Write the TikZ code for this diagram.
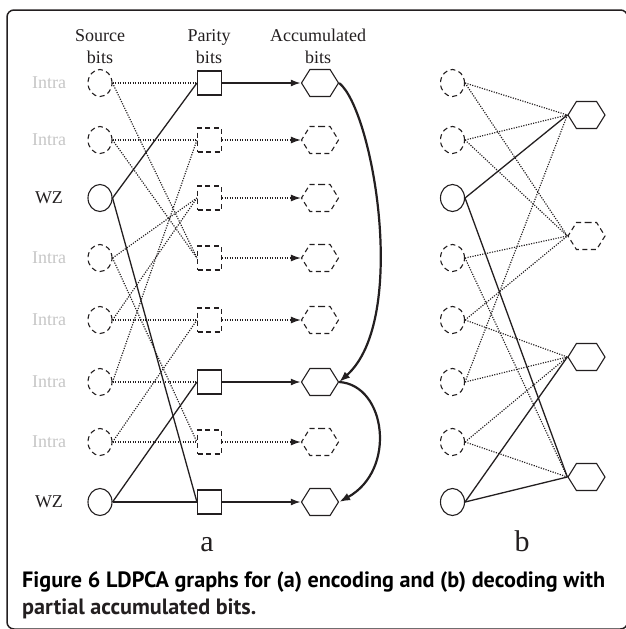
\documentclass[tikz,border=0pt]{standalone}
\usepackage{fontspec}
\setmainfont{Liberation Serif}
\newfontfamily\capfont{PT Sans}
\usetikzlibrary{shapes.geometric,shapes.symbols,arrows.meta}
\definecolor{ink}{RGB}{35,31,32}
\definecolor{intra}{RGB}{198,198,198}
\newsavebox\capbox
\newcommand\capline{\capfont\bfseries\fontsize{17}{20}\selectfont}
\begin{document}
\sbox\capbox{\capline Figure 6 LDPCA graphs for (a) encoding and (b) decoding with}%
\pgfmathsetmacro\capscale{583/\the\wd\capbox}%
\begin{tikzpicture}[x=1pt,y=-1pt,
  every node/.style={text=ink},
  src/.style={ellipse, draw=ink, minimum width=24pt, minimum height=27pt, inner sep=0pt, line width=1.1pt},
  srcd/.style={src, dash pattern=on 5pt off 3.5pt},
  par/.style={rectangle, draw=ink, minimum size=24pt, inner sep=0pt, line width=1.1pt},
  pard/.style={par, dash pattern=on 5pt off 3.5pt},
  acc/.style={signal, signal to=west and east, signal pointer angle=116, draw=ink, minimum width=37pt, minimum height=27pt, inner sep=0pt, line width=1.1pt},
  accd/.style={acc, dash pattern=on 5pt off 3.5pt},
  sedge/.style={draw=ink, line width=1.3pt},
  dedge/.style={draw=ink, line width=1.15pt, dash pattern=on 1.15pt off 1.35pt},
  sarrow/.style={draw=ink, line width=1.8pt, -{Latex[length=10pt,width=7pt]}},
  darrow/.style={draw=ink, line width=1.2pt, dash pattern=on 1.2pt off 1.3pt, -{Latex[length=10pt,width=7pt]}},
  carrow/.style={draw=ink, line width=2.2pt, -{Latex[length=11pt,width=8pt]}},
  lab/.style={font=\fontsize{18}{21}\selectfont},
  rowlab/.style={font=\fontsize{18}{21}\selectfont},
  big/.style={font=\fontsize{30}{32}\selectfont, anchor=base}
]
\useasboundingbox (0,0) rectangle (625,629);
\draw[ink, line width=1.5pt, rounded corners=7pt] (7,10) rectangle (627.5,629);

% headers
\node[lab, anchor=base] (h1a) at (100,41) {Source};
\node[lab, anchor=base] (h1b) at (100,63) {bits};
\node[lab, anchor=base] (h2a) at (209,41) {Parity};
\node[lab, anchor=base] (h2b) at (209,63) {bits};
\node[lab, anchor=base] (h3a) at (318,41) {Accumulated};
\node[lab, anchor=base] (h3b) at (318,63) {bits};

% row labels
\node[rowlab, text=intra] (l1) at (49,83) {Intra};
\node[rowlab, text=intra] (l2) at (49,140) {Intra};
\node[rowlab] (l3) at (49,198) {WZ};
\node[rowlab, text=intra] (l4) at (49,258) {Intra};
\node[rowlab, text=intra] (l5) at (49,320) {Intra};
\node[rowlab, text=intra] (l6) at (49,382) {Intra};
\node[rowlab, text=intra] (l7) at (49,442) {Intra};
\node[rowlab] (l8) at (49,502) {WZ};

% graph a nodes
\node[srcd] (S1) at (100,83) {};
\node[srcd] (S2) at (100,140) {};
\node[src]  (S3) at (100,198) {};
\node[srcd] (S4) at (100,258) {};
\node[srcd] (S5) at (100,320) {};
\node[srcd] (S6) at (100,382) {};
\node[srcd] (S7) at (100,442) {};
\node[src]  (S8) at (100,502) {};

\node[par]  (P1) at (209.5,83) {};
\node[pard] (P2) at (209.5,140) {};
\node[pard] (P3) at (209.5,198) {};
\node[pard] (P4) at (209.5,258) {};
\node[pard] (P5) at (209.5,320) {};
\node[par]  (P6) at (209.5,382) {};
\node[pard] (P7) at (209.5,442) {};
\node[par]  (P8) at (209.5,502) {};

\node[acc]  (A1) at (320,83) {};
\node[accd] (A2) at (320,140) {};
\node[accd] (A3) at (320,198) {};
\node[accd] (A4) at (320,258) {};
\node[accd] (A5) at (320,320) {};
\node[acc]  (A6) at (320,382) {};
\node[accd] (A7) at (320,442) {};
\node[acc]  (A8) at (320,502) {};

% graph a edges
\draw[dedge] (S1.east) -- (P1.west);
\draw[dedge] (S1.east) -- (P4.west);
\draw[dedge] (S2.east) -- (P2.west);
\draw[dedge] (S2.east) -- (P4.west);
\draw[sedge] (S3.east) -- (P1.west);
\draw[sedge] (S3.east) -- (P8.west);
\draw[dedge] (S4.east) -- (P3.west);
\draw[dedge] (S4.east) -- (P7.west);
\draw[dedge] (S5.east) -- (P5.west);
\draw[dedge] (S5.east) -- (P3.west);
\draw[dedge] (S6.east) -- (P6.west);
\draw[dedge] (S6.east) -- (P2.west);
\draw[dedge] (S7.east) -- (P7.west);
\draw[dedge] (S7.east) -- (P5.west);
\draw[sedge] (S8.east) -- (P6.west);
\draw[sedge] (S8.east) -- (P8.west);

\draw[sarrow] (P1.east) -- (A1.west);
\draw[darrow] (P2.east) -- (A2.west);
\draw[darrow] (P3.east) -- (A3.west);
\draw[darrow] (P4.east) -- (A4.west);
\draw[darrow] (P5.east) -- (A5.west);
\draw[sarrow] (P6.east) -- (A6.west);
\draw[darrow] (P7.east) -- (A7.west);
\draw[sarrow] (P8.east) -- (A8.west);

\draw[carrow] (A1.east) .. controls ++(34,27) and ++(70,-62) .. (A6.east);
\draw[carrow] (A6.east) .. controls ++(47,3) and ++(58,-32) .. (A8.east);

% graph b nodes
\node[srcd] (C1) at (452.5,83) {};
\node[srcd] (C2) at (452.5,140) {};
\node[src]  (C3) at (452.5,198) {};
\node[srcd] (C4) at (452.5,258) {};
\node[srcd] (C5) at (452.5,320) {};
\node[srcd] (C6) at (452.5,382) {};
\node[srcd] (C7) at (452.5,442) {};
\node[src]  (C8) at (452.5,502) {};

\node[acc]  (H1) at (586.5,115) {};
\node[accd] (H2) at (586.5,236) {};
\node[acc]  (H3) at (586.5,357) {};
\node[acc]  (H4) at (586.5,477) {};

\draw[dedge] (C1.east) -- (H1.west);
\draw[dedge] (C1.east) -- (H2.west);
\draw[dedge] (C2.east) -- (H1.west);
\draw[dedge] (C2.east) -- (H2.west);
\draw[sedge] (C3.east) -- (H1.west);
\draw[sedge] (C3.east) -- (H4.west);
\draw[dedge] (C4.east) -- (H2.west);
\draw[dedge] (C4.east) -- (H4.west);
\draw[dedge] (C5.east) -- (H2.west);
\draw[dedge] (C5.east) -- (H3.west);
\draw[dedge] (C6.east) -- (H3.west);
\draw[dedge] (C6.east) -- (H1.west);
\draw[dedge] (C7.east) -- (H3.west);
\draw[dedge] (C7.east) -- (H4.west);
\draw[sedge] (C8.east) -- (H3.west);
\draw[sedge] (C8.east) -- (H4.west);

% sublabels
\node[big] (la) at (207,551) {a};
\node[big] (lb) at (522,551) {b};

% caption
\node[anchor=base west, inner sep=0pt, text=ink] (cap1) at (22,587)
  {\scalebox{\capscale}{\usebox\capbox}};
\node[anchor=base west, inner sep=0pt, text=ink] (cap2) at (22,614)
  {\scalebox{\capscale}{\capline partial accumulated bits.}};
\end{tikzpicture}
\end{document}
